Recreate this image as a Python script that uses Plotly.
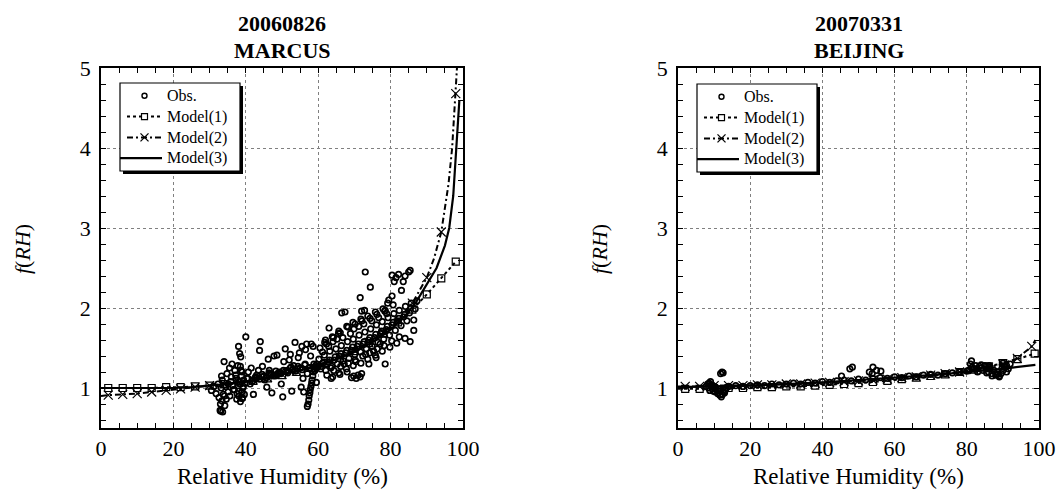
import plotly.graph_objects as go

W, H = 1059, 490

# ---------------- Left panel: 20060826 MARCUS ----------------
ma_obs_rh = (
    [30.5,31.2,31.8,32.3,32.6,33.0,33.1,33.4,33.5,33.8,34.0,34.2,34.5,34.8,35.1,35.5,35.9,36.2,36.6,37.0,
     37.3,37.5,37.8,38.0,38.1,38.3,38.4,38.5,38.6,38.8,38.9,39.0,39.1,39.2,39.4,39.6,39.8,40.0,40.3,40.7,
     41.2,33.2,33.6,34.1,34.6,35.2,36.0,36.8,37.6,38.2,38.7,39.3,32.9,33.3,35.6,36.4,37.2,38.0,38.5,39.0]
    + [41.5,42.1,42.8,43.5,43.8,44.0,44.6,45.2,45.8,46.2,46.6,47.2,47.8,48.2,48.6,49.3,50.2,50.9,51.5,52.0,
       52.7,53.2,53.6,54.2,54.8,55.3,55.5,56.0,56.4,56.8,57.0,45.0,47.0,49.0,51.0,53.0,55.0,42.5,44.5,46.5,
       48.5,50.5,52.5,54.5,56.5,43.0,49.8,52.3,55.8]
    + [40.6,41.9,42.7,43.8,44.5,45.7,46.4,47.6,48.3,49.7,50.4,51.6,52.3,53.7,54.4,55.6,56.3,57.6,58.8,59.7]
    + [57.0,57.2,57.4,57.5,57.7,57.8,58.0,58.2,58.3,58.5,58.7,59.0,59.3,59.6,60.0,58.1,58.6,59.1,59.5,57.9]
    + [60.5,61.8,62.3,63.9,64.2,65.7,66.1,67.9,68.3,69.6,70.2,71.8,72.1,73.7,74.3,75.8,76.2,77.9,78.4,79.2,80.7]
    + [60.2,60.9,61.7,62.8,63.2,64.4,64.9,65.9,66.4,67.6,68.1,69.2,69.7,70.8,71.3,72.4,72.9,73.9,74.5,75.6,
       76.1,77.2,77.7,78.8,79.3,80.4,80.9,81.9,82.4,83.6,84.1,85.2,85.7,86.8,87.3]
    + [60.7,61.3,62.1,63.1,63.7,64.7,65.3,66.3,66.9,67.9,68.5,69.5,70.1,71.1,71.7,72.7,73.3,74.3,74.9,75.9,
       76.5,77.5,78.1,79.1,79.7,80.7,81.3,82.3,82.9,83.9,84.5]
    + [62.4,63.6,64.3,65.7,66.2,67.8,68.3,69.7,70.2,71.8,72.3,73.7,74.2,75.8,76.3,77.7,78.2,79.8,80.3,81.7,82.4]
    + [61.2,62.9,64.1,65.2,66.8,68.9,69.9,71.2,72.6,74.8,76.7,78.9,63.5,67.2,70.4,73.1,75.3,77.1]
    + [69.2,69.8,70.5,71.0,71.6,72.0]
    + [66.5,67.4,71.6,72.0,72.8,73.0,74.4,78.5,79.5,80.4,80.4,81.0,81.5,82.2,83.0,83.5,84.0,85.0,85.4,65.6,63.0,62.0]
    + [78.5,85.4,86.4,86.4,84.0,76.0,74.0,68.0,66.0,64.0]
)
ma_obs_f = (
    [0.97,1.02,0.93,1.05,0.88,0.80,0.71,0.84,1.10,0.92,1.33,0.78,1.02,1.18,0.95,1.25,1.08,1.30,0.98,1.22,
     1.12,0.86,1.28,1.52,0.90,1.43,1.05,0.83,1.39,1.15,0.95,1.20,0.88,1.00,1.10,0.92,1.06,1.64,1.12,1.20,
     1.05,1.00,0.70,0.90,0.86,1.05,1.14,0.98,0.93,1.08,1.22,1.02,0.72,1.15,0.90,1.03,1.16,0.96,1.27,0.87]
    + [1.25,0.92,1.13,1.22,1.47,1.58,1.27,1.10,1.01,1.36,1.18,0.94,1.40,1.15,1.41,1.20,0.89,1.49,1.22,1.35,
       0.96,1.28,1.57,1.24,1.44,1.01,1.52,0.95,1.30,1.55,1.18,1.15,1.17,1.19,1.21,1.23,1.25,1.12,1.14,1.22,
       1.17,1.33,1.26,1.38,1.48,1.16,1.05,1.42,1.12]
    + [1.12,1.09,1.14,1.11,1.17,1.13,1.19,1.15,1.21,1.18,1.22,1.19,1.25,1.21,1.27,1.23,1.29,1.25,1.30,1.26]
    + [0.77,0.80,0.85,0.90,0.94,0.98,1.02,1.06,1.10,1.15,1.20,1.24,1.28,1.30,1.27,1.55,1.52,1.22,1.07,1.40]
    + [1.50,1.57,1.55,1.64,1.63,1.71,1.69,1.77,1.76,1.82,1.80,1.86,1.84,1.90,1.87,1.95,1.92,1.99,1.96,2.06,2.04]
    + [1.36,1.27,1.41,1.32,1.46,1.35,1.49,1.40,1.53,1.44,1.58,1.47,1.61,1.52,1.66,1.55,1.70,1.60,1.74,1.63,
       1.79,1.68,1.83,1.73,1.88,1.79,1.93,1.84,1.97,1.89,2.02,1.94,2.06,1.99,2.09]
    + [1.24,1.31,1.22,1.35,1.27,1.39,1.30,1.43,1.34,1.47,1.37,1.51,1.42,1.55,1.45,1.58,1.49,1.63,1.52,1.67,
       1.57,1.71,1.61,1.77,1.66,1.82,1.72,1.87,1.78,1.92,1.84]
    + [1.16,1.12,1.22,1.19,1.27,1.24,1.31,1.28,1.35,1.31,1.40,1.36,1.44,1.41,1.49,1.46,1.53,1.51,1.59,1.56,1.64]
    + [1.45,1.52,1.58,1.61,1.63,1.68,1.74,1.77,1.80,1.84,1.88,1.93,1.25,1.30,1.33,1.42,1.46,1.55]
    + [1.13,1.15,1.12,1.16,1.14,1.18]
    + [1.94,1.95,2.13,1.96,1.97,2.45,2.26,1.97,2.10,2.15,2.41,2.33,2.38,2.42,2.22,2.33,2.40,2.45,2.47,1.68,1.75,1.60]
    + [1.30,1.58,1.72,1.85,1.62,1.38,1.30,1.20,1.17,1.14]
)

ma_m1_rh = [0, 2, 6, 10, 14, 18, 22, 26, 30, 34, 38, 42, 46, 50, 54, 58, 62, 66, 70, 74, 78, 82, 86, 90, 94, 98]
ma_m1_f = [1.00, 1.00, 1.00, 1.00, 1.00, 1.01, 1.01, 1.02, 1.03, 1.05, 1.07, 1.09, 1.12, 1.16, 1.20, 1.25,
           1.31, 1.38, 1.46, 1.56, 1.68, 1.82, 1.98, 2.17, 2.37, 2.58]

ma_m2_line_rh = [0, 2, 6, 10, 14, 18, 22, 26, 30, 34, 38, 42, 46, 50, 54, 58, 62, 66, 70, 74, 78, 82, 86, 90,
                 92, 94, 96, 97, 98, 98.6]
ma_m2_line_f = [0.90, 0.91, 0.92, 0.93, 0.95, 0.97, 0.99, 1.01, 1.03, 1.05, 1.07, 1.10, 1.13, 1.17, 1.21, 1.26,
                1.32, 1.39, 1.47, 1.57, 1.70, 1.85, 2.06, 2.38, 2.62, 2.95, 3.55, 4.0, 4.68, 5.2]
ma_m2_mark_rh = [2, 6, 10, 14, 18, 22, 26, 30, 34, 38, 42, 46, 50, 54, 58, 62, 66, 70, 74, 78, 82, 86, 90, 94, 98]
ma_m2_mark_f = [0.91, 0.92, 0.93, 0.95, 0.97, 0.99, 1.01, 1.03, 1.05, 1.07, 1.10, 1.13, 1.17, 1.21, 1.26,
                1.32, 1.39, 1.47, 1.57, 1.70, 1.85, 2.06, 2.38, 2.95, 4.68]

ma_m3_rh = [0, 10, 20, 25, 30, 35, 40, 45, 50, 55, 60, 65, 70, 75, 80, 84, 87, 90, 92.7, 95, 96.2, 97.3, 98.2,
            98.7, 99.0]
ma_m3_f = [1.00, 1.00, 1.00, 1.01, 1.03, 1.05, 1.08, 1.12, 1.17, 1.22, 1.28, 1.36, 1.45, 1.57, 1.73, 1.90,
           2.07, 2.30, 2.50, 2.78, 3.00, 3.40, 4.00, 4.35, 4.60]

# ---------------- Right panel: 20070331 BEIJING ----------------
bj_obs_rh = (
    [7.8,8.2,8.5,8.8,9.0,9.2,9.5,9.8,10.0,10.3,10.6,11.0,11.3,11.6,12.0,12.3,12.6,13.0,13.4,8.6,9.4,10.2,11.1,
     11.8,12.2,12.5,12.9]
    + [14,16,18,20,22,24,26,28,30,32,34,36,38,40,42,44,46,48,50,52,54,56,58,60,62,64,66,68,70,72,74,76,78,80]
    + [45.3,47.6,48.3,53.8,54.0,55.0,56.2,53.0]
    + [80.5,81.0,81.5,82.0,82.5,83.0,83.5,84.0,84.5,85.0,85.5,86.0,86.5,87.0,87.5,88.0,88.5,89.0,89.5,90.0,
       90.5,91.0,91.5,92.0,81.3,84.0,86.2,88.5,90.0,87.0,89.0,91.0,85.5]
)
bj_obs_f = (
    [1.02,1.05,1.00,0.97,1.08,1.03,0.99,0.96,1.02,0.95,0.98,0.93,0.96,0.91,0.89,0.92,0.95,0.97,1.00,1.06,1.04,
     1.01,0.99,1.18,1.20,1.19,0.94]
    + [1.02,1.03,1.02,1.03,1.04,1.03,1.05,1.04,1.05,1.06,1.05,1.07,1.06,1.08,1.07,1.09,1.10,1.09,1.11,1.10,
       1.12,1.13,1.12,1.14,1.13,1.15,1.14,1.16,1.17,1.16,1.18,1.19,1.20,1.21]
    + [1.15,1.24,1.26,1.18,1.26,1.22,1.21,1.20]
    + [1.22,1.30,1.26,1.24,1.28,1.20,1.27,1.25,1.22,1.28,1.24,1.20,1.26,1.18,1.22,1.16,1.20,1.14,1.18,1.22,
       1.26,1.28,1.24,1.30,1.34,1.29,1.28,1.17,1.31,1.15,1.15,1.20,1.19]
)

bj_m1_rh = [0, 2, 6, 10, 14, 18, 22, 26, 30, 34, 38, 42, 46, 50, 54, 58, 62, 66, 70, 74, 78, 82, 86, 90, 94, 98.8]
bj_m1_f = [0.99, 0.99, 0.99, 1.00, 1.00, 1.00, 1.01, 1.01, 1.02, 1.02, 1.03, 1.04, 1.05, 1.06, 1.075, 1.09,
           1.11, 1.13, 1.15, 1.17, 1.20, 1.23, 1.27, 1.31, 1.36, 1.43]

bj_m2_line_rh = [0, 2, 6, 10, 14, 18, 22, 26, 30, 34, 38, 42, 46, 50, 54, 58, 62, 66, 70, 74, 78, 82, 86, 90,
                 94, 98, 99]
bj_m2_line_f = [1.02, 1.02, 1.02, 1.03, 1.03, 1.03, 1.04, 1.04, 1.05, 1.05, 1.06, 1.07, 1.08, 1.09, 1.10, 1.11,
                1.13, 1.14, 1.16, 1.18, 1.20, 1.23, 1.26, 1.30, 1.37, 1.52, 1.60]
bj_m2_mark_rh = [2, 6, 10, 14, 18, 22, 26, 30, 34, 38, 42, 46, 50, 54, 58, 62, 66, 70, 74, 78, 82, 86, 90, 94, 98]
bj_m2_mark_f = [1.02, 1.02, 1.03, 1.03, 1.03, 1.04, 1.04, 1.05, 1.05, 1.06, 1.07, 1.08, 1.09, 1.10, 1.11,
                1.13, 1.14, 1.16, 1.18, 1.20, 1.23, 1.26, 1.30, 1.37, 1.52]

bj_m3_rh = [0, 10, 20, 30, 40, 50, 60, 70, 80, 90, 99]
bj_m3_f = [1.01, 1.02, 1.03, 1.05, 1.07, 1.10, 1.13, 1.16, 1.20, 1.24, 1.29]

titles = [("20060826", "MARCUS"), ("20070331", "BEIJING")]
x_title = "Relative Humidity (%)"
y_title = "<i>f</i>(<i>RH</i>)"
legend_labels = ["Obs.", "Model(1)", "Model(2)", "Model(3)"]

FONT = "Liberation Serif, Times New Roman, serif"
BLACK = "#000000"

fig = go.Figure()


def add_panel(ax, obs_rh, obs_f, m1_rh, m1_f, m2l_rh, m2l_f, m2m_rh, m2m_f, m3_rh, m3_f):
    xa, ya = "x" + ax, "y" + ax
    fig.add_trace(go.Scatter(x=m3_rh, y=m3_f, mode="lines", xaxis=xa, yaxis=ya, showlegend=False,
                             line=dict(color=BLACK, width=2.2)))
    fig.add_trace(go.Scatter(x=m1_rh, y=m1_f, mode="lines", xaxis=xa, yaxis=ya, showlegend=False,
                             line=dict(color=BLACK, width=2, dash="dot")))
    fig.add_trace(go.Scatter(x=m1_rh[1:], y=m1_f[1:], mode="markers", xaxis=xa, yaxis=ya, showlegend=False,
                             marker=dict(symbol="square-open", size=7, color=BLACK, line=dict(width=1.2))))
    fig.add_trace(go.Scatter(x=m2l_rh, y=m2l_f, mode="lines", xaxis=xa, yaxis=ya, showlegend=False,
                             line=dict(color=BLACK, width=2, dash="6px,3px,2px,3px")))
    fig.add_trace(go.Scatter(x=m2m_rh, y=m2m_f, mode="markers", xaxis=xa, yaxis=ya, showlegend=False,
                             marker=dict(symbol="x-thin-open", size=9, color=BLACK, line=dict(width=1.2))))
    fig.add_trace(go.Scatter(x=obs_rh, y=obs_f, mode="markers", xaxis=xa, yaxis=ya, showlegend=False,
                             marker=dict(symbol="circle-open", size=5.5, color=BLACK, line=dict(width=1.7))))


add_panel("", ma_obs_rh, ma_obs_f, ma_m1_rh, ma_m1_f, ma_m2_line_rh, ma_m2_line_f, ma_m2_mark_rh, ma_m2_mark_f,
          ma_m3_rh, ma_m3_f)
add_panel("2", bj_obs_rh, bj_obs_f, bj_m1_rh, bj_m1_f, bj_m2_line_rh, bj_m2_line_f, bj_m2_mark_rh, bj_m2_mark_f,
          bj_m3_rh, bj_m3_f)

# panel geometry in pixels
panels = [dict(x0=101, x1=463), dict(x0=678, x1=1039)]
Y_TOP, Y_BOT = 68, 428


def px(v):
    return v / W


def py(v):
    return 1 - v / H


axis_common = dict(
    showline=True, linecolor=BLACK, linewidth=1.5, mirror="ticks",
    ticks="inside", ticklen=5, tickcolor=BLACK, tickwidth=1.2,
    showgrid=True, gridcolor="#808080", griddash="dot", gridwidth=1,
    zeroline=False, automargin=False,
    tickfont=dict(family=FONT, size=22, color=BLACK),
)

for i, p in enumerate(panels):
    suffix = "" if i == 0 else "2"
    fig.update_layout(**{
        "xaxis" + suffix: dict(
            axis_common, domain=[px(p["x0"]), px(p["x1"])], range=[0, 100],
            dtick=20, tick0=0, anchor="y" + suffix,
            minor=dict(dtick=5, tick0=0, ticks="inside", ticklen=5, tickcolor=BLACK, tickwidth=1.2,
                       showgrid=False),
        ),
        "yaxis" + suffix: dict(
            axis_common, domain=[py(Y_BOT), py(Y_TOP)], range=[0.5, 5],
            dtick=1, tick0=0, anchor="x" + suffix, ticklabelstandoff=4,
            minor=dict(dtick=0.2, tick0=0, ticks="inside", ticklen=5, tickcolor=BLACK, tickwidth=1.2,
                       showgrid=False),
        ),
    })

annotations = []
shapes = []
LEG_FONT = 16
for i, p in enumerate(panels):
    cx = (p["x0"] + p["x1"]) / 2
    t1, t2 = titles[i]
    annotations.append(dict(x=px(cx), y=py(23), xref="paper", yref="paper", text="<b>%s</b>" % t1,
                            showarrow=False, font=dict(family=FONT, size=22, color=BLACK),
                            xanchor="center", yanchor="middle"))
    annotations.append(dict(x=px(cx), y=py(50), xref="paper", yref="paper", text="<b>%s</b>" % t2,
                            showarrow=False, font=dict(family=FONT, size=22, color=BLACK),
                            xanchor="center", yanchor="middle"))
    annotations.append(dict(x=px(cx), y=py(476), xref="paper", yref="paper", text=x_title,
                            showarrow=False, font=dict(family=FONT, size=23, color=BLACK),
                            xanchor="center", yanchor="middle"))
    annotations.append(dict(x=px(p["x0"] - 79), y=py(249), xref="paper", yref="paper", text=y_title,
                            showarrow=False, font=dict(family=FONT, size=22, color=BLACK), textangle=-90,
                            xanchor="center", yanchor="middle"))

    # legend box with drop shadow
    bx0, by0 = p["x0"] + 19, 83 + i
    bx1, by1 = bx0 + 120, by0 + 88
    shapes.append(dict(type="rect", xref="paper", yref="paper", x0=px(bx0 + 3), x1=px(bx1 + 3),
                       y0=py(by0 + 3), y1=py(by1 + 3), fillcolor=BLACK, line=dict(width=0), layer="above"))
    shapes.append(dict(type="rect", xref="paper", yref="paper", x0=px(bx0), x1=px(bx1),
                       y0=py(by0), y1=py(by1), fillcolor="white", line=dict(color=BLACK, width=1.2),
                       layer="above"))
    step = LEG_FONT * 1.3
    top = by0 + (88 - 4 * step) / 2
    rows = [top + step * (j + 0.5) for j in range(4)]
    annotations.append(dict(x=px(bx0 + 45), y=py((by0 + by1) / 2), xref="paper", yref="paper",
                            text="<br>".join(legend_labels), align="left",
                            showarrow=False, font=dict(family=FONT, size=LEG_FONT, color=BLACK),
                            xanchor="left", yanchor="middle"))
    lx0, lx1 = bx0 + 7, bx0 + 42
    mx = (lx0 + lx1) / 2
    # Obs symbol
    shapes.append(dict(type="circle", xref="paper", yref="paper", x0=px(mx - 2.5), x1=px(mx + 2.5),
                       y0=py(rows[0] - 2.5), y1=py(rows[0] + 2.5), line=dict(color=BLACK, width=1.4),
                       layer="above"))
    # Model(1)
    shapes.append(dict(type="line", xref="paper", yref="paper", x0=px(lx0), x1=px(lx1), y0=py(rows[1]),
                       y1=py(rows[1]), line=dict(color=BLACK, width=2, dash="dot"), layer="above"))
    shapes.append(dict(type="rect", xref="paper", yref="paper", x0=px(mx - 3), x1=px(mx + 3),
                       y0=py(rows[1] - 3), y1=py(rows[1] + 3), fillcolor="white",
                       line=dict(color=BLACK, width=1.2), layer="above"))
    # Model(2)
    shapes.append(dict(type="line", xref="paper", yref="paper", x0=px(lx0), x1=px(lx1), y0=py(rows[2]),
                       y1=py(rows[2]), line=dict(color=BLACK, width=2, dash="6px,3px,2px,3px"), layer="above"))
    for d in (1, -1):
        shapes.append(dict(type="line", xref="paper", yref="paper", x0=px(mx - 4), x1=px(mx + 4),
                           y0=py(rows[2] - 4 * d), y1=py(rows[2] + 4 * d), line=dict(color=BLACK, width=1.2),
                           layer="above"))
    # Model(3)
    shapes.append(dict(type="line", xref="paper", yref="paper", x0=px(bx0), x1=px(lx1), y0=py(rows[3]),
                       y1=py(rows[3]), line=dict(color=BLACK, width=2.2), layer="above"))

fig.update_layout(
    width=W, height=H,
    margin=dict(l=0, r=0, t=0, b=0),
    paper_bgcolor="white", plot_bgcolor="white",
    showlegend=False,
    annotations=annotations, shapes=shapes,
)

fig.write_html(
    "out.html",
    config={"displayModeBar": False},
    post_script="document.body.style.margin='0px';document.body.style.overflow='hidden';",
)
